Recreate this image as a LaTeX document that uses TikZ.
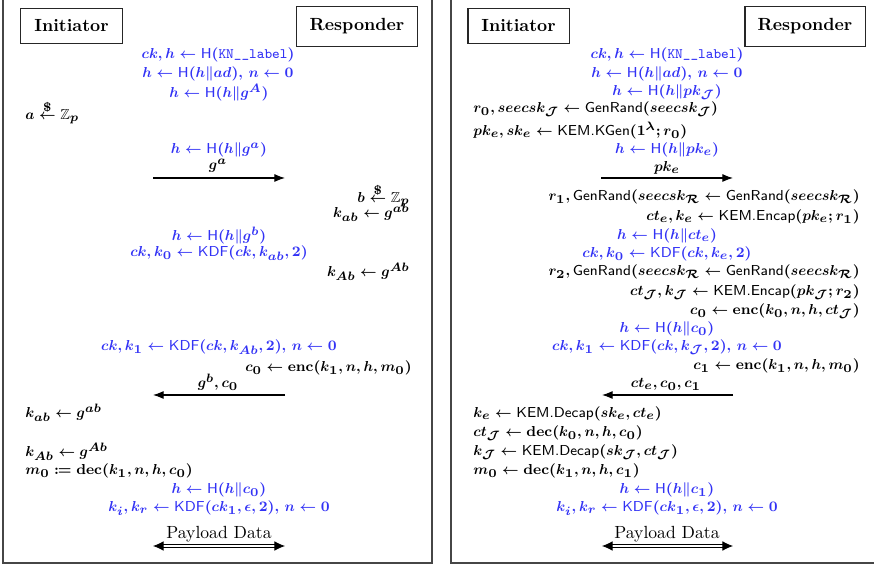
\RequirePackage{fix-cm}
\documentclass[tikz,border=0pt]{standalone}
\usepackage{amsmath,amssymb,mathtools}
\usetikzlibrary{arrows.meta}
\DeclareMathSizes{8.2}{8.2}{6.9}{5.6}
\definecolor{kblue}{RGB}{50,50,245}
\definecolor{framegray}{RGB}{70,70,70}
\begin{document}
\begin{tikzpicture}[x=0.568pt,y=-0.568pt,
  every node/.style={inner sep=0pt,font=\fontsize{8.2}{10}\selectfont\boldmath},
  bl/.style={text=kblue},
  plain/.style={font=\fontsize{10}{12}\selectfont},
  party/.style={draw=black!85,line width=0.6pt,font=\fontsize{10}{12}\selectfont\bfseries,inner sep=0pt},
  ini/.style={party,minimum width=57.4pt,minimum height=20.4pt},
  resp/.style={party,minimum width=68.2pt,minimum height=22.2pt},
  msg/.style={-{Latex[length=6pt,width=4.5pt]},line width=0.6pt},
  pay/.style={{Latex[length=6pt,width=5.5pt]}-{Latex[length=6pt,width=5.5pt]},double,double distance=1.4pt,line width=0.5pt},
  frame/.style={draw=framegray,line width=0.8pt}]
\useasboundingbox (0,0) rectangle (874,568);
% frames
\draw[frame] (3,-10) rectangle (432,563);
\draw[frame] (451,-10) rectangle (890,563);

% ---------------- left panel ----------------
\node[ini] (Li) at (71.5,26) {Initiator};
\node[resp] (Lr) at (357,26.5) {Responder};
\node[bl,anchor=mid] (L1) at (218,55) {$ck, h \leftarrow \textsf{H}(\texttt{KN\_\_label})$};
\node[bl,anchor=mid] (L2) at (218,74) {$h \leftarrow \textsf{H}(h\|ad),\, n \leftarrow 0$};
\node[bl,anchor=mid] (L3) at (219,94) {$h \leftarrow \textsf{H}(h\|g^{A})$};
\node[anchor=mid west] (L4) at (25,116) {$a \stackrel{\$}{\leftarrow} \mathbb{Z}_p$};
\node[bl,anchor=mid] (L5) at (219,150) {$h \leftarrow \textsf{H}(h\|g^{a})$};
\node[anchor=mid] (L6) at (218,166) {$g^{a}$};
\coordinate (La1) at (153,178);
\coordinate (La2) at (285,178);
\draw[msg] (La1) -- (La2);
\node[anchor=mid east] (L7) at (410,199) {$b \stackrel{\$}{\leftarrow} \mathbb{Z}_p$};
\node[anchor=mid east] (L8) at (410,214) {$k_{ab} \leftarrow g^{ab}$};
\node[bl,anchor=mid] (L9) at (219,237) {$h \leftarrow \textsf{H}(h\|g^{b})$};
\node[bl,anchor=mid] (L10) at (219,253) {$ck, k_0 \leftarrow \textsf{KDF}(ck, k_{ab}, 2)$};
\node[anchor=mid east] (L11) at (410,273) {$k_{Ab} \leftarrow g^{Ab}$};
\node[bl,anchor=mid] (L12) at (219,347) {$ck, k_1 \leftarrow \textsf{KDF}(ck, k_{Ab}, 2),\, n \leftarrow 0$};
\node[anchor=mid east] (L13) at (412,368) {$c_0 \leftarrow \mathrm{enc}(k_1, n, h, m_0)$};
\node[anchor=mid] (L14) at (218,384) {$g^{b}, c_0$};
\coordinate (Lb1) at (285,395);
\coordinate (Lb2) at (153,395);
\draw[msg] (Lb1) -- (Lb2);
\node[anchor=mid west] (L15) at (25,414) {$k_{ab} \leftarrow g^{ab}$};
\node[anchor=mid west] (L16) at (25,453) {$k_{Ab} \leftarrow g^{Ab}$};
\node[anchor=mid west] (L17) at (25,471) {$m_0 \coloneqq \mathrm{dec}(k_1, n, h, c_0)$};
\node[bl,anchor=mid] (L18) at (219,490) {$h \leftarrow \textsf{H}(h\|c_0)$};
\node[bl,anchor=mid] (L19) at (219,508) {$k_i, k_r \leftarrow \textsf{KDF}(ck_1, \epsilon, 2),\, n \leftarrow 0$};
\node[plain,anchor=mid] (L20) at (219,535) {Payload Data};
\coordinate (Lc1) at (153,546);
\coordinate (Lc2) at (285,546);
\draw[pay] (Lc1) -- (Lc2);

% ---------------- right panel ----------------
\node[ini] (Ri) at (518.5,26) {Initiator};
\node[resp] (Rr) at (805,26.5) {Responder};
\node[bl,anchor=mid] (R1) at (667,55) {$ck, h \leftarrow \textsf{H}(\texttt{KN\_\_label})$};
\node[bl,anchor=mid] (R2) at (667,74) {$h \leftarrow \textsf{H}(h\|ad),\, n \leftarrow 0$};
\node[bl,anchor=mid] (R3) at (667,92) {$h \leftarrow \textsf{H}(h\|pk_{\mathcal{J}})$};
\node[anchor=mid west] (R4) at (473,109) {$r_0, seecsk_{\mathcal{J}} \leftarrow \textsf{GenRand}(seecsk_{\mathcal{J}})$};
\node[anchor=mid west] (R5) at (473,132) {$pk_e, sk_e \leftarrow \textsf{KEM.KGen}(1^{\lambda}; r_0)$};
\node[bl,anchor=mid] (R6) at (667,150) {$h \leftarrow \textsf{H}(h\|pk_e)$};
\node[anchor=mid] (R7) at (667,168) {$pk_e$};
\coordinate (Ra1) at (601,178);
\coordinate (Ra2) at (733,178);
\draw[msg] (Ra1) -- (Ra2);
\node[anchor=mid east] (R8) at (860,197) {$r_1, \textsf{GenRand}(seecsk_{\mathcal{R}} \leftarrow \textsf{GenRand}(seecsk_{\mathcal{R}})$};
\node[anchor=mid east] (R9) at (860,217) {$ct_e, k_e \leftarrow \textsf{KEM.Encap}(pk_e; r_1)$};
\node[bl,anchor=mid] (R10) at (667,236) {$h \leftarrow \textsf{H}(h\|ct_e)$};
\node[bl,anchor=mid] (R11) at (667,254) {$ck, k_0 \leftarrow \textsf{KDF}(ck, k_e, 2)$};
\node[anchor=mid east] (R12) at (860,272) {$r_2, \textsf{GenRand}(seecsk_{\mathcal{R}} \leftarrow \textsf{GenRand}(seecsk_{\mathcal{R}})$};
\node[anchor=mid east] (R13) at (860,292) {$ct_{\mathcal{J}}, k_{\mathcal{J}} \leftarrow \textsf{KEM.Encap}(pk_{\mathcal{J}}; r_2)$};
\node[anchor=mid east] (R14) at (860,311) {$c_0 \leftarrow \mathrm{enc}(k_0, n, h, ct_{\mathcal{J}})$};
\node[bl,anchor=mid] (R15) at (667,329) {$h \leftarrow \textsf{H}(h\|c_0)$};
\node[bl,anchor=mid] (R16) at (667,347) {$ck, k_1 \leftarrow \textsf{KDF}(ck, k_{\mathcal{J}}, 2),\, n \leftarrow 0$};
\node[anchor=mid east] (R17) at (860,366) {$c_1 \leftarrow \mathrm{enc}(k_1, n, h, m_0)$};
\node[anchor=mid] (R18) at (666,384) {$ct_e, c_0, c_1$};
\coordinate (Rb1) at (733,395);
\coordinate (Rb2) at (602,395);
\draw[msg] (Rb1) -- (Rb2);
\node[anchor=mid west] (R19) at (473,414) {$k_e \leftarrow \textsf{KEM.Decap}(sk_e, ct_e)$};
\node[anchor=mid west] (R20) at (473,433) {$ct_{\mathcal{J}} \leftarrow \mathrm{dec}(k_0, n, h, c_0)$};
\node[anchor=mid west] (R21) at (473,452) {$k_{\mathcal{J}} \leftarrow \textsf{KEM.Decap}(sk_{\mathcal{J}}, ct_{\mathcal{J}})$};
\node[anchor=mid west] (R22) at (473,471) {$m_0 \leftarrow \mathrm{dec}(k_1, n, h, c_1)$};
\node[bl,anchor=mid] (R23) at (667,490) {$h \leftarrow \textsf{H}(h\|c_1)$};
\node[bl,anchor=mid] (R24) at (667,508) {$k_i, k_r \leftarrow \textsf{KDF}(ck_1, \epsilon, 2),\, n \leftarrow 0$};
\node[plain,anchor=mid] (R25) at (667,535) {Payload Data};
\coordinate (Rc1) at (602,546);
\coordinate (Rc2) at (733,546);
\draw[pay] (Rc1) -- (Rc2);
\end{tikzpicture}
\end{document}
